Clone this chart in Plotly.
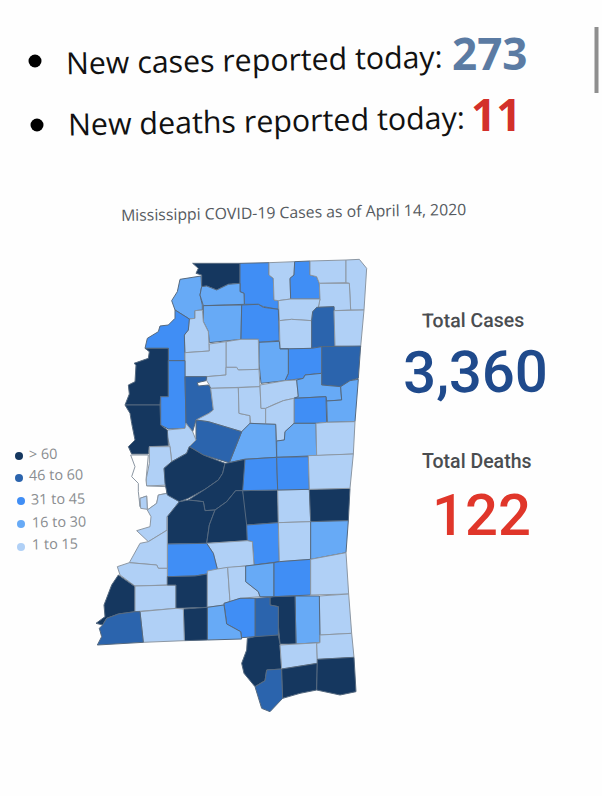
import plotly.graph_objects as go

# county outlines, map units (north half / south half)
county_names_n = ["DeSoto","Tunica","Marshall","Benton","Tippah","Alcorn","Tishomingo","Prentiss","Tate","Union",
    "Panola","Lafayette","Quitman","Coahoma","Pontotoc","Lee","Itawamba","Monroe","Chickasaw","Calhoun",
    "Yalobusha","Tallahatchie","Grenada","Bolivar","Sunflower","Leflore","Carroll","Montgomery","Webster","Clay",
    "Lowndes","Oktibbeha","Choctaw","Winston","Noxubee","Attala","Holmes","Humphreys","Washington","Sharkey","Issaquena"]
county_bins_n = [5,2,3,1,3,1,1,1,2,1,
    2,3,1,3,1,4,1,4,3,2,
    1,1,1,5,3,4,1,1,1,2,
    2,3,1,2,1,2,4,1,5,1,0]
county_outlines_n = [
    [(308,40),(450,40),(450,100),(415,103),(380,120),(350,108),(335,110),(335,75),(318,70),(325,55)],
    [(270,88),(333,78),(335,110),(330,135),(337,165),(337,180),(315,182),(315,205),(298,207),(255,180),(245,152),(262,125)],
    [(450,40),(537,38),(537,75),(550,85),(552,150),(565,152),(565,178),(520,170),(505,163),(463,163),(462,130),(450,125)],
    [(537,38),(614,35),(612,75),(600,85),(602,147),(565,152),(552,150),(550,85),(537,75)],
    [(614,35),(660,33),(660,75),(680,80),(688,100),(690,147),(602,147),(600,85),(612,75)],
    [(660,33),(768,30),(768,98),(688,100),(680,80),(660,75)],
    [(768,30),(808,28),(830,55),(822,180),(782,180),(778,100),(768,98)],
    [(688,100),(778,100),(782,180),(732,182),(732,170),(685,172),(690,147)],
    [(335,110),(350,108),(380,120),(415,103),(450,100),(450,125),(462,130),(463,163),(340,167),(330,135)],
    [(565,152),(602,147),(690,147),(685,172),(668,185),(665,212),(605,208),(568,212)],
    [(340,167),(455,165),(453,268),(358,278),(355,245),(340,215)],
    [(455,165),(505,163),(520,172),(565,178),(568,272),(507,277),(505,268),(453,268)],
    [(298,207),(315,205),(315,182),(337,180),(340,215),(355,245),(358,303),(285,308),(283,255),(295,240)],
    [(255,180),(298,207),(295,240),(283,255),(285,332),(235,332),(235,295),(165,295),(172,265),(205,245),(210,228),(235,225),(255,205)],
    [(568,212),(605,208),(665,212),(665,295),(570,297)],
    [(668,185),(680,172),(732,170),(735,290),(695,290),(665,295),(665,212)],
    [(732,182),(782,180),(822,180),(812,290),(735,288)],
    [(695,290),(812,288),(805,385),(780,392),(752,410),(695,405)],
    [(570,297),(665,295),(695,290),(695,370),(645,375),(640,385),(585,392),(595,370),(595,297)],
    [(507,277),(568,274),(570,297),(595,297),(595,370),(585,392),(513,400),(507,340)],
    [(408,275),(453,268),(505,268),(507,358),(445,360),(440,352),(408,352)],
    [(285,308),(358,303),(358,282),(408,275),(408,375),(360,380),(350,380),(285,380)],
    [(350,380),(408,375),(408,352),(440,352),(445,360),(507,358),(510,410),(362,415),(358,405),(350,392)],
    [(165,295),(235,295),(235,440),(212,440),(210,465),(105,465),(118,432),(115,405),(135,395),(138,345),(132,340),(175,325),(178,305)],
    [(235,332),(285,332),(285,380),(288,520),(285,535),(235,537),(212,525),(212,440),(235,440)],
    [(285,380),(350,380),(348,392),(322,398),(325,408),(355,405),(362,415),(370,480),(357,490),(318,510),(308,545),(288,520)],
    [(362,415),(445,413),(447,490),(480,497),(480,520),(455,545),(355,515),(318,510),(357,490),(370,480)],
    [(445,413),(510,410),(513,475),(527,475),(527,522),(482,520),(480,497),(447,490)],
    [(510,405),(585,392),(620,390),(625,440),(612,445),(580,452),(555,462),(527,475),(513,475)],
    [(620,390),(640,385),(645,375),(695,370),(695,405),(752,410),(755,450),(710,453),(708,440),(612,445),(625,440)],
    [(752,410),(780,392),(805,388),(795,515),(712,517),(710,453),(755,450)],
    [(612,445),(708,440),(710,517),(678,520),(612,520)],
    [(527,475),(555,462),(580,452),(612,445),(612,520),(585,545),(583,570),(560,573),(557,523),(527,522)],
    [(585,545),(612,520),(678,520),(680,617),(560,622),(560,573),(583,570)],
    [(678,520),(710,517),(795,515),(790,612),(680,617)],
    [(455,545),(480,520),(527,522),(557,523),(560,622),(462,628),(418,638)],
    [(318,510),(355,515),(455,545),(418,638),(340,615),(298,590),(318,570)],
    [(232,540),(285,535),(288,520),(308,545),(318,570),(298,590),(290,610),(245,635),(240,590),(232,560)],
    [(105,465),(210,465),(212,525),(232,540),(235,587),(178,590),(175,612),(125,612),(115,590),(135,570),(125,520),(120,490)],
    [(178,590),(240,590),(245,635),(222,655),(225,680),(235,705),(170,708),(168,690),(178,640)],
    [(122,615),(175,615),(168,690),(170,708),(232,710),(230,730),(205,735),(200,760),(172,780),(170,738),(150,745),(150,770),(145,725),(145,700),(125,680),(135,650)],
]

county_names_s = ["Warren","Hinds Rim","Yazoo","Madison","Hinds","Rankin","Scott","Newton","Lauderdale","Leake",
    "Kemper","Neshoba","Smith","Jasper","Clarke","Simpson","Copiah","Claiborne","Jefferson","Adams",
    "Franklin","Lincoln","Lawrence","JeffDavis","Covington","Jones","Wayne","Greene","Perry","Forrest",
    "Lamar","Marion","Pike","Walthall","Amite","Wilkinson","PearlRiver","Hancock","Stone","George","Harrison","Jackson"]
county_bins_s = [1,1,5,5,5,5,5,1,5,3,
    3,1,3,1,2,1,3,1,1,5,
    1,5,1,1,2,3,1,1,2,5,
    4,3,2,5,1,4,5,4,1,1,5,5]
county_outlines_s = [
    [(150,85),(170,78),(172,118),(152,115)],
    [(205,75),(232,70),(268,95),(232,140),(232,180),(175,215),(140,182),(180,170),(183,140),(172,120),(200,100)],
    [(222,-5),(245,-25),(290,-50),(298,-70),(340,-45),(405,-20),(398,10),(385,30),(345,58),(295,85),(268,95),(232,75),(225,40)],
    [(405,-20),(418,-22),(465,-32),(467,62),(437,62),(410,95),(375,120),(345,122),(340,95),(295,90),(345,58),(385,30),(398,10)],
    [(295,90),(340,95),(345,122),(375,120),(358,165),(350,220),(232,222),(232,140),(268,95)],
    [(437,62),(458,62),(470,120),(472,212),(350,220),(358,165),(375,120),(410,95)],
    [(458,62),(563,60),(565,158),(470,165)],
    [(563,60),(658,58),(662,155),(565,158)],
    [(658,58),(780,55),(775,152),(662,155)],
    [(465,-32),(560,-38),(563,60),(458,62)],
    [(560,-38),(655,-40),(658,58),(563,60)],
    [(655,-43),(790,-48),(780,55),(658,58)],
    [(470,165),(565,158),(568,275),(492,285),(487,215),(472,212)],
    [(565,158),(662,155),(662,268),(568,275)],
    [(662,155),(775,152),(768,248),(662,268)],
    [(350,220),(472,212),(487,215),(492,285),(382,297),(370,250)],
    [(232,222),(350,220),(370,250),(382,297),(350,312),(315,318),(232,320)],
    [(232,140),(232,295),(205,295),(200,285),(118,278),(150,220),(175,215),(232,180)],
    [(82,290),(118,278),(200,285),(205,295),(232,295),(232,345),(135,348),(90,315)],
    [(85,315),(135,350),(135,425),(85,432),(50,445),(38,465),(18,460),(45,440),(42,405),(65,345)],
    [(135,348),(232,345),(258,345),(258,415),(150,425),(135,425)],
    [(232,320),(315,318),(352,312),(352,412),(258,415),(258,345),(232,345)],
    [(352,312),(352,303),(382,297),(413,292),(420,395),(402,400),(402,405),(352,412)],
    [(413,292),(467,288),(467,335),(505,365),(510,380),(450,385),(420,395)],
    [(467,288),(492,285),(552,278),(552,380),(510,380),(505,365),(467,335)],
    [(552,278),(568,275),(662,268),(662,375),(552,380)],
    [(662,268),(768,248),(776,372),(662,375)],
    [(688,378),(776,372),(785,490),(690,495)],
    [(615,378),(688,378),(690,518),(618,522)],
    [(540,382),(552,380),(615,378),(618,522),(570,522),(565,465),(565,410),(540,405)],
    [(495,385),(540,382),(540,405),(565,410),(565,495),(545,500),(495,500)],
    [(450,385),(495,385),(495,500),(455,503),(452,485),(410,462),(402,400),(420,395)],
    [(352,412),(402,405),(410,462),(452,485),(455,507),(352,510)],
    [(280,417),(352,412),(352,510),(283,512)],
    [(150,425),(258,415),(280,417),(283,512),(160,517)],
    [(50,445),(85,432),(135,425),(150,425),(160,517),(22,525),(35,500),(28,475),(38,465)],
    [(472,505),(495,500),(565,495),(570,522),(575,597),(530,600),(525,632),(495,650),(462,610),(455,580),(470,540)],
    [(530,600),(575,597),(578,685),(540,725),(515,715),(495,650),(525,632)],
    [(570,525),(618,522),(690,518),(680,520),(682,580),(575,597)],
    [(690,495),(785,490),(792,562),(682,568),(680,520),(690,518)],
    [(575,597),(682,580),(680,660),(630,670),(578,685)],
    [(682,568),(792,562),(798,665),(750,675),(680,660)],
]
south_shift = 660

bin_colors = ["#ffffff", "#b0d0f6", "#67aaf6", "#408ef5", "#2b64ad", "#15375f"]

legend_labels = ["> 60", "46 to 60", "31 to 45", "16 to 30", "1 to 15"]
legend_bins = [5, 4, 3, 2, 1]
legend_x = [19, 19, 21, 21, 21]
legend_y = [456, 478, 501, 524, 547]
legend_text_x = [27, 27, 29, 30, 30]
legend_text_y = [453, 475, 498, 521, 543]

W, H = 602, 796

fig = go.Figure()


def add_county(name, b, pts, shift=0):
    xs = [p[0] for p in pts] + [pts[0][0]]
    ys = [p[1] + shift for p in pts] + [pts[0][1] + shift]
    line = "#8c97a3" if b < 2 else "#55697f"
    fig.add_trace(go.Scatter(x=xs, y=ys, mode="lines", fill="toself", name=name,
                             fillcolor=bin_colors[b], line=dict(color=line, width=1),
                             hoverinfo="name", showlegend=False))


for n, b, o in zip(county_names_n, county_bins_n, county_outlines_n):
    add_county(n, b, o)
for n, b, o in zip(county_names_s, county_bins_s, county_outlines_s):
    add_county(n, b, o, south_shift)

# legend dots and the two bullets live on pixel axes
fig.add_trace(go.Scatter(x=legend_x, y=legend_y, mode="markers", xaxis="x2", yaxis="y2",
                         marker=dict(size=8, color=[bin_colors[b] for b in legend_bins]),
                         showlegend=False, hoverinfo="skip"))
fig.add_trace(go.Scatter(x=[35, 37], y=[61, 125], mode="markers", xaxis="x2", yaxis="y2",
                         marker=dict(size=13, color="#000000"), showlegend=False, hoverinfo="skip"))


def label(text, x, y, size, color, angle=0, family="Open Sans", anchor="left", weight="normal"):
    fig.add_annotation(text=text, x=x / W, y=1 - y / H, xref="paper", yref="paper",
                       xanchor=anchor, yanchor="middle", showarrow=False, textangle=angle,
                       font=dict(family=family, size=size, color=color, weight=weight))


label("New cases reported today:", 64, 59, 30.3, "#111111", -1)
label("New deaths reported today:", 66, 121, 30.4, "#111111", -1)
label("<b>273</b>", 450, 53, 44, "#5b7ba3")
label("<b>11</b>", 469, 114, 44, "#d3302a")
label("Mississippi COVID-19 Cases as of April 14, 2020", 293, 212, 15.8, "#555a60", -1, anchor="center")
label("Total Cases", 473, 321, 19.5, "#4a4d50", -0.5, "Roboto", "center", 500)
label("3,360", 475, 372, 58, "#1f4a8c", -0.5, "Roboto", "center", 500)
label("Total Deaths", 477, 461, 19.5, "#4a4d50", 0, "Roboto", "center", 500)
label("122", 481, 515, 58, "#e0362a", 0, "Roboto", "center", 500)
for t, x, y in zip(legend_labels, legend_text_x, legend_text_y):
    label(t, x, y, 14.4, "#8a8d90", -1)

# scroll bar at the right edge of the screenshot
fig.add_shape(type="line", xref="paper", yref="paper", x0=596.5 / W, x1=596.5 / W,
              y0=1 - 27 / H, y1=1 - 93 / H, line=dict(color="#8f8f8f", width=4))

fig.update_layout(
    width=W, height=H, margin=dict(l=0, r=0, t=0, b=0),
    paper_bgcolor="#fefefe", plot_bgcolor="#fefefe",
    xaxis=dict(range=[-270, 1536], visible=False),
    yaxis=dict(range=[1638, -750], visible=False),
    xaxis2=dict(range=[0, W], visible=False, overlaying="x"),
    yaxis2=dict(range=[H, 0], visible=False, overlaying="y"),
)

fig.write_html("out.html", post_script="document.body.style.margin='0';", config={"displayModeBar": False})
